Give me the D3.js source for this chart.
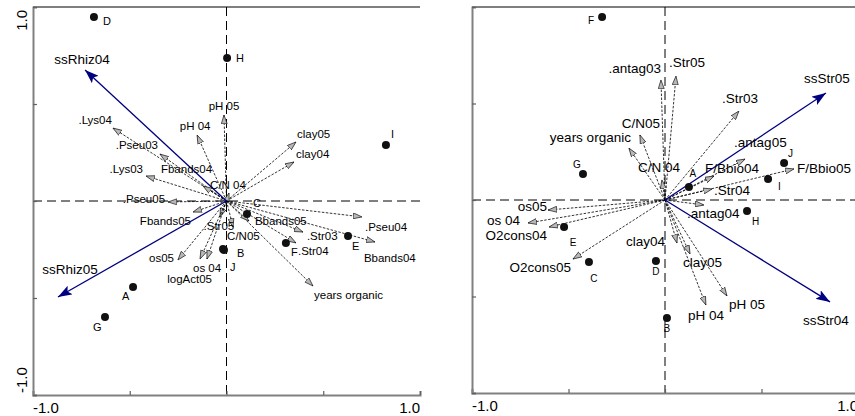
<!DOCTYPE html>
<html><head><meta charset="utf-8">
<script src="https://cdn.jsdelivr.net/npm/d3@7/dist/d3.min.js"></script>
<style>
html,body{margin:0;padding:0;background:#fff;}
svg{display:block;font-family:"Liberation Sans",Arial,sans-serif;}
</style></head>
<body>
<svg id="chart" width="855" height="416"></svg>
<script>
// ---------------- DATA ----------------
const tickValues = [-1, -0.5, 0, 0.5, 1];
const tickLabels = ["-1.0", "1.0"];

// Left panel: samples
const samplesL = ["A","B","C","D","E","F","G","H","I","J"];
const sampleXL = [-0.483,-0.018,0.106,-0.685,0.628,0.307,-0.628,0.003,0.824,-0.013];
const sampleYL = [-0.443,-0.247,-0.067,0.948,-0.180,-0.216,-0.598,0.737,0.289,-0.253];

// Left panel: response (blue) arrows
const speciesL = ["ssRhiz04","ssRhiz05"];
const speciesXL = [-0.731,-0.871];
const speciesYL = [0.675,-0.495];

// Left panel: explanatory (dashed) arrows
const envL = [".Lys04",".Pseu03",".Lys03","Fbands04",".Pseu05","pH 04","pH 05","clay05","clay04","C/N 04",
  "Fbands05",".Str05","C/N05","os05","os 04","logAct05",".Pseu04","Bbands04",".Str03",".Str04","years organic","Bbands05"];
const envXL = [-0.587,-0.344,-0.416,-0.121,-0.302,-0.152,-0.013,0.359,0.349,0.013,
  -0.173,-0.034,0.034,-0.251,-0.137,-0.101,0.700,0.767,0.395,0.359,0.447,0.116];
const envYL = [0.376,0.242,0.129,0.077,-0.005,0.340,0.443,0.304,0.201,0.041,
  -0.057,-0.082,-0.134,-0.304,-0.299,-0.299,-0.082,-0.211,-0.160,-0.216,-0.438,-0.103];

// Right panel: samples
const samplesR = ["A","B","C","D","E","F","G","H","I","J"];
const sampleXR = [0.124,0.010,-0.394,-0.047,-0.523,-0.326,-0.425,0.425,0.534,0.617];
const sampleYR = [0.067,-0.611,-0.321,-0.316,-0.140,0.948,0.135,-0.057,0.109,0.192];

// Right panel: response (blue) arrows
const speciesR = ["ssStr05","ssStr04"];
const speciesXR = [0.834,0.855];
const speciesYR = [0.554,-0.528];

// Right panel: explanatory (dashed) arrows
const envR = [".antag03",".Str05",".Str03","C/N05","years organic","C/N 04",".antag05","F/Bbio04","F/Bbio05",".Str04",
  ".antag04","clay04","clay05","pH 04","pH 05","os05","os 04","O2cons04","O2cons05"];
const envXR = [-0.021,0.057,0.383,-0.130,-0.187,-0.016,0.415,0.254,0.668,0.244,
  0.202,0.062,0.130,0.212,0.321,-0.606,-0.710,-0.601,-0.477];
const envYR = [0.622,0.642,0.461,0.337,0.269,0.104,0.212,0.124,0.161,0.057,
  -0.026,-0.223,-0.280,-0.544,-0.497,-0.052,-0.119,-0.140,-0.306];

// ---------------- LABEL LAYOUT (anchor, dx, dy in px) ----------------
const sampleLabL = [["start",-11,13],["start",14,8],["start",6,-7],["start",9,8],["start",4,14],
  ["start",5,13],["start",-12,14],["start",9,4],["start",5,-7],["start",6,21]];
const speciesLabL = [["middle",-3,-6],["middle",12,-23]];
const envLabL = [["end",-1,-4],["end",-2,-5],["end",-3,-3],["end",9,-13],["end",-3,1],["middle",-2,-5],
  ["middle",0,-5],["start",1,-4],["start",2,-4],["middle",-1,-4],["end",-2,13],["middle",-1,13],
  ["start",-6,13],["end",-4,2],["start",-7,13],["end",5,24],["start",3,14],["start",-11,20],
  ["start",4,8],["start",2,12],["start",1,13],["start",6,4]];

const sampleLabR = [["middle",4,-10],["middle",0,14],["middle",5,20],["middle",0,14],["middle",9,19],
  ["end",-8,7],["middle",-6,-6],["start",5,14],["start",10,11],["start",4,-6]];
const speciesLabR = [["start",-22,-10],["start",-27,23]];
const envLabR = [["end",0,-7],["start",-7,-9],["start",-17,-8],["middle",1,-7],["end",2,-6],["middle",-3,-8],
  ["start",-11,-12],["start",-9,-3],["start",3,4],["start",2,6],["start",-17,13],["end",-12,3],
  ["start",-7,13],["start",-18,15],["start",2,13],["end",-1,1],["end",-8,2],["end",-2,13],["end",-2,13]];

// ---------------- DRAW ----------------
const svg = d3.select("#chart");
const defs = svg.append("defs");
defs.append("marker").attr("id","headEnv").attr("markerUnits","userSpaceOnUse")
  .attr("viewBox","0 0 10 8").attr("refX",10).attr("refY",4)
  .attr("markerWidth",9).attr("markerHeight",7).attr("orient","auto")
  .append("path").attr("d","M0,0.6L10,4L0,7.4Z")
  .attr("fill","#b8b8b8").attr("stroke","#000").attr("stroke-width",0.7);
defs.append("marker").attr("id","headSp").attr("markerUnits","userSpaceOnUse")
  .attr("viewBox","0 0 14 10").attr("refX",14).attr("refY",5)
  .attr("markerWidth",14).attr("markerHeight",10).attr("orient","auto")
  .append("path").attr("d","M0,0L14,5L0,10L3,5Z").attr("fill","#000080");

function panel(cfg){
  const {x, y, xRightEdge, showY, samples, sx, sy, sLab, sFont,
         species, spx, spy, spLab, env, ex, ey, eLab, eFont} = cfg;
  const g = svg.append("g");
  const x0 = x(0), y0 = y(0);

  // top border
  g.append("line").attr("x1",x(-1)).attr("x2",xRightEdge).attr("y1",y(1)).attr("y2",y(1))
    .attr("stroke","#000").attr("stroke-width",1);

  // zero dashed lines
  g.append("line").attr("x1",x(-1)).attr("x2",xRightEdge).attr("y1",y0).attr("y2",y0)
    .attr("stroke","#000").attr("stroke-width",1).attr("stroke-dasharray","9,5");
  g.append("line").attr("x1",x0).attr("x2",x0).attr("y1",y(1)).attr("y2",y(-1))
    .attr("stroke","#000").attr("stroke-width",1).attr("stroke-dasharray","9,5");

  // axes
  const ax = g.append("g").attr("transform",`translate(0,${y(-1)})`)
    .call(d3.axisBottom(x).tickValues(tickValues).tickSize(-4).tickFormat(""));
  const ay = g.append("g").attr("transform",`translate(${x(-1)},0)`)
    .call(d3.axisLeft(y).tickValues(tickValues).tickSize(-4).tickFormat(""));
  [ax, ay].forEach(a => {
    a.select(".domain").attr("stroke","#808080").attr("stroke-width",2);
    a.selectAll(".tick line").attr("stroke","#606060").attr("stroke-width",1.2);
  });

  // tick labels
  g.append("text").attr("x",x(-1)).attr("y",y(-1)+18).attr("font-size",15)
    .attr("text-anchor","start").attr("fill","#000").text(tickLabels[0]);
  g.append("text").attr("x",x(1)).attr("y",y(-1)+18).attr("font-size",15)
    .attr("text-anchor","end").attr("fill","#000").text(tickLabels[1]);
  if (showY){
    g.append("text").attr("transform",`translate(${x(-1)-6},${y(-1)-2}) rotate(-90)`)
      .attr("font-size",15).attr("text-anchor","start").text(tickLabels[0]);
    g.append("text").attr("transform",`translate(${x(-1)-6},${y(1)+3}) rotate(-90)`)
      .attr("font-size",15).attr("text-anchor","end").text(tickLabels[1]);
  }

  // env arrows
  env.forEach((n,i) => {
    g.append("line").attr("x1",x0).attr("y1",y0).attr("x2",x(ex[i])).attr("y2",y(ey[i]))
      .attr("stroke","#000").attr("stroke-width",0.8).attr("stroke-dasharray","2.5,1.5")
      .attr("marker-end","url(#headEnv)");
  });
  // species arrows
  species.forEach((n,i) => {
    g.append("line").attr("x1",x0).attr("y1",y0).attr("x2",x(spx[i])).attr("y2",y(spy[i]))
      .attr("stroke","#000080").attr("stroke-width",1.3).attr("marker-end","url(#headSp)");
  });
  // samples
  samples.forEach((n,i) => {
    g.append("circle").attr("cx",x(sx[i])).attr("cy",y(sy[i])).attr("r",4).attr("fill","#111");
  });

  // labels
  env.forEach((n,i) => {
    g.append("text").attr("x",x(ex[i])+eLab[i][1]).attr("y",y(ey[i])+eLab[i][2])
      .attr("text-anchor",eLab[i][0]).attr("font-size",eFont).attr("fill","#000").text(n);
  });
  species.forEach((n,i) => {
    g.append("text").attr("x",x(spx[i])+spLab[i][1]).attr("y",y(spy[i])+spLab[i][2])
      .attr("text-anchor",spLab[i][0]).attr("font-size",13.5).attr("fill","#000").text(n);
  });
  samples.forEach((n,i) => {
    g.append("text").attr("x",x(sx[i])+sLab[i][1]).attr("y",y(sy[i])+sLab[i][2])
      .attr("text-anchor",sLab[i][0]).attr("font-size",sFont).attr("fill","#000").text(n);
  });
}

const xL = d3.scaleLinear().domain([-1,1]).range([33,420]);
const yL = d3.scaleLinear().domain([-1,1]).range([395,7]);
const xR = d3.scaleLinear().domain([-1,1]).range([472,858]);
const yR = d3.scaleLinear().domain([-1,1]).range([393,7]);

panel({x:xL, y:yL, xRightEdge:xL(1), showY:true,
  samples:samplesL, sx:sampleXL, sy:sampleYL, sLab:sampleLabL, sFont:11,
  species:speciesL, spx:speciesXL, spy:speciesYL, spLab:speciesLabL,
  env:envL, ex:envXL, ey:envYL, eLab:envLabL, eFont:11.5});
panel({x:xR, y:yR, xRightEdge:855, showY:false,
  samples:samplesR, sx:sampleXR, sy:sampleYR, sLab:sampleLabR, sFont:10,
  species:speciesR, spx:speciesXR, spy:speciesYR, spLab:speciesLabR,
  env:envR, ex:envXR, ey:envYR, eLab:envLabR, eFont:13.5});
</script>
</body></html>
